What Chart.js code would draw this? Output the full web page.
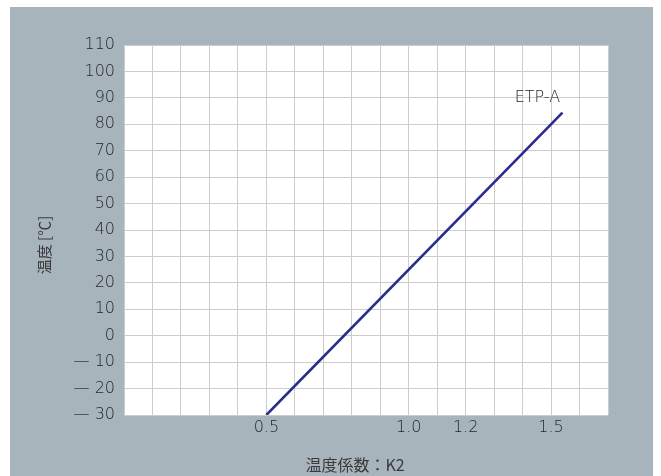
<!DOCTYPE html>
<html>
<head>
<meta charset="utf-8">
<script src="https://cdn.jsdelivr.net/npm/chart.js@4/dist/chart.umd.min.js"></script>
<style>
  html, body { margin: 0; padding: 0; background: #ffffff; }
  #wrap { position: relative; width: 661px; height: 476px; }
</style>
</head>
<body>
<div id="wrap"><canvas id="c" width="661" height="476"></canvas></div>
<script>
// Temperature coefficient K2 versus temperature for ETP-A
const seriesName = 'ETP-A';
const k2Values = [0.5, 1.54];
const tempValues = [-30, 84.4];

// Axis ranges and the tick labels that are printed
const xMin = 0, xMax = 1.7, xStep = 0.1;
const xTickLabels = ['0.5', '1.0', '1.2', '1.5'];
const yMin = -30, yMax = 110, yStep = 10;
const xTitle = '温度係数：K2';
const yTitle = '温度 [℃]';

const textColor = '#262626';
const panelColor = '#a8b4bc';
const numFont = { family: "'DejaVu Sans', sans-serif", size: 16, weight: 300 };
const jpFont = "'Noto Sans CJK JP', sans-serif";

const points = k2Values.map((x, i) => ({ x, y: tempValues[i] }));

const framePlugin = {
  id: 'frame',
  beforeDraw(chart) {
    const { ctx, chartArea: a } = chart;
    ctx.save();
    ctx.fillStyle = panelColor;
    ctx.fillRect(10, 7, 643, chart.height - 7);
    ctx.fillStyle = '#ffffff';
    ctx.fillRect(a.left, a.top, a.right - a.left, a.bottom - a.top);
    ctx.restore();
  },
  afterDraw(chart) {
    const { ctx, chartArea: a, scales } = chart;
    ctx.save();
    ctx.fillStyle = '#3a3a3a';
    // x axis title
    ctx.font = `16px ${jpFont}`;
    ctx.textAlign = 'center';
    ctx.textBaseline = 'middle';
    ctx.fillText(xTitle, (a.left + a.right) / 2 - 11, a.bottom + 50);
    // y axis title
    ctx.save();
    ctx.translate(44, (a.top + a.bottom) / 2 + 15);
    ctx.rotate(-Math.PI / 2);
    ctx.font = `15px ${jpFont}`;
    ctx.fillText(yTitle, 0, 0);
    ctx.restore();
    // series label near the end of the line
    const last = points[points.length - 1];
    const px = scales.x.getPixelForValue(last.x);
    const py = scales.y.getPixelForValue(last.y);
    ctx.fillStyle = textColor;
    ctx.font = `${numFont.weight} ${numFont.size}px ${numFont.family}`;
    ctx.fillText(seriesName, px - 25, py - 15);
    ctx.restore();
  }
};

new Chart(document.getElementById('c'), {
  type: 'scatter',
  data: {
    datasets: [{
      label: seriesName,
      data: points,
      showLine: true,
      borderColor: '#2b2d8e',
      borderWidth: 2.6,
      pointRadius: 0,
      fill: false
    }]
  },
  options: {
    responsive: false,
    animation: false,
    layout: { padding: { left: 0, top: 45, right: 53, bottom: 0 } },
    plugins: { legend: { display: false }, tooltip: { enabled: false } },
    scales: {
      x: {
        type: 'linear',
        min: xMin, max: xMax,
        afterFit(scale) { scale.height = 61; },
        border: { display: false },
        grid: { color: '#cccccc', lineWidth: 1, drawTicks: false },
        ticks: {
          stepSize: xStep,
          autoSkip: false,
          maxRotation: 0,
          padding: 3,
          color: textColor,
          font: numFont,
          callback(v) {
            const s = v.toFixed(1);
            return xTickLabels.includes(s) ? s : '';
          }
        }
      },
      y: {
        type: 'linear',
        min: yMin, max: yMax,
        afterFit(scale) { scale.width = 124; },
        border: { display: false },
        grid: { color: '#cccccc', lineWidth: 1, drawTicks: false },
        ticks: {
          stepSize: yStep,
          padding: 9,
          color: textColor,
          font: numFont,
          callback(v) { return v < 0 ? '— ' + Math.abs(v) : String(v); }
        }
      }
    }
  },
  plugins: [framePlugin]
});
</script>
</body>
</html>
